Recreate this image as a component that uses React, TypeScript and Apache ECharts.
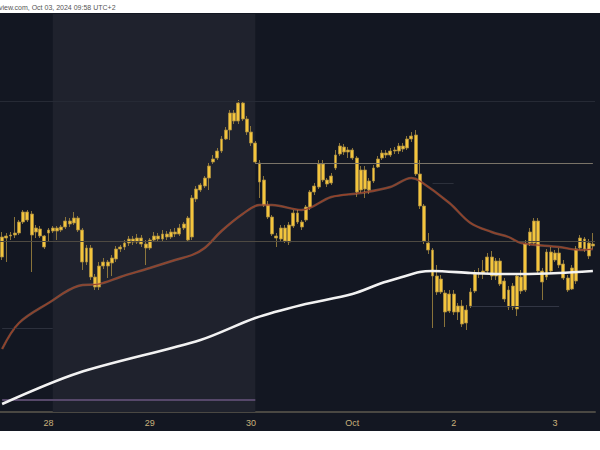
import React, { useEffect, useRef } from "react";
import * as echarts from "echarts";

// Hourly candles, first one at Sep 27 2024 13:00
const START_UTC = Date.UTC(2024, 8, 27, 13);
const CANDLE_COUNT = 141;

const tickDays = ["09-28", "09-29", "09-30", "10-01", "10-02", "10-03"];
const tickLabels = ["28", "29", "30", "Oct", "2", "3"];

const opens = [
  64430, 64620, 64640, 64650, 64670, 64780, 64880, 64860, 64680, 64710,
  64640, 64670, 64690, 64720, 64700, 64730, 64790, 64770, 64820, 64700,
  64380, 64520, 64230, 64130, 64340, 64380, 64370, 64410, 64510, 64530,
  64570, 64610, 64580, 64620, 64560, 64520, 64600, 64640, 64610, 64660,
  64630, 64680, 64660, 64720, 64820, 64630, 65010, 65100, 65140, 65220,
  65380, 65420, 65490, 65610, 65700, 65870, 65790, 65970, 65810, 65680,
  65570, 65370, 65200, 64950, 64830, 64640, 64610, 64720, 64580, 64740,
  64870, 64780, 64800, 64930, 65080, 65130, 65360, 65200, 65170, 65320,
  65460, 65530, 65480, 65500, 65420, 65100, 65300, 65100, 65190, 65330,
  65420, 65470, 65450, 65490, 65490, 65540, 65520, 65610, 65650, 65260,
  64940, 64570, 64500, 64240, 64080, 64070, 63890, 64060, 63880, 63940,
  63770, 63940, 64090, 64260, 64270, 64290, 64430, 64240, 64390, 64190,
  64100, 63930, 63910, 64230, 64100, 64570, 64570, 64790, 64290, 64230,
  64480, 64400, 64470, 64360, 64220, 64110, 64190, 64520, 64610, 64440,
  64560,
];
const closes = [
  64630, 64640, 64650, 64670, 64780, 64880, 64800, 64650, 64720, 64640,
  64530, 64700, 64720, 64690, 64730, 64790, 64760, 64820, 64700, 64380,
  64520, 64230, 64130, 64340, 64380, 64340, 64420, 64510, 64530, 64570,
  64610, 64580, 64620, 64560, 64520, 64600, 64640, 64610, 64660, 64630,
  64680, 64660, 64720, 64760, 64600, 65020, 65110, 65150, 65220, 65340,
  65410, 65490, 65610, 65700, 65870, 65790, 65970, 65810, 65680, 65570,
  65380, 65180, 64950, 64830, 64660, 64620, 64720, 64590, 64750, 64870,
  64780, 64730, 64930, 65080, 65140, 65360, 65200, 65160, 65240, 65450,
  65540, 65480, 65500, 65420, 65080, 65300, 65110, 65190, 65320, 65410,
  65470, 65450, 65490, 65500, 65540, 65510, 65610, 65640, 65260, 64940,
  64590, 64500, 64240, 64080, 64210, 63880, 64060, 63880, 63940, 63760,
  63900, 64080, 64260, 64270, 64290, 64430, 64240, 64390, 64160, 64010,
  63930, 64140, 64240, 64090, 64560, 64680, 64790, 64290, 64180, 64480,
  64290, 64470, 64350, 64220, 64100, 64320, 64510, 64620, 64510, 64570,
  64540,
];
const highs = [
  64680, 64670, 64680, 64830, 64800, 64900, 64900, 64890, 64750, 64740,
  64650, 64720, 64740, 64740, 64750, 64830, 64820, 64880, 64840, 64720,
  64550, 64550, 64260, 64380, 64420, 64400, 64450, 64540, 64550, 64600,
  64640, 64640, 64660, 64650, 64600, 64620, 64680, 64670, 64700, 64690,
  64710, 64720, 64760, 64780, 64840, 65050, 65140, 65170, 65240, 65370,
  65450, 65520, 65640, 65730, 65900, 65900, 66000, 65990, 65840, 65740,
  65590, 65400, 65240, 64990, 64850, 64670, 64750, 64750, 64780, 64900,
  64900, 64800, 64950, 65100, 65170, 65400, 65400, 65220, 65270, 65500,
  65570, 65560, 65530, 65520, 65440, 65340, 65340, 65220, 65350, 65440,
  65500, 65500, 65520, 65530, 65570, 65570, 65640, 65680, 65700, 65400,
  64960, 64670, 64520, 64350, 64250, 64100, 64100, 64100, 63970, 64000,
  63950, 64120, 64300, 64320, 64400, 64470, 64490, 64420, 64420, 64220,
  64140, 64170, 64270, 64300, 64600, 64720, 64820, 64820, 64320, 64510,
  64530, 64500, 64520, 64400, 64250, 64350, 64540, 64650, 64630, 64610,
  64670,
];
const lows = [
  64400, 64380, 64600, 64620, 64650, 64760, 64780, 64280, 64620, 64620,
  64510, 64580, 64670, 64600, 64680, 64710, 64730, 64750, 64680, 64300,
  64350, 64200, 64100, 64100, 64310, 64220, 64240, 64380, 64480, 64500,
  64540, 64550, 64560, 64530, 64350, 64500, 64580, 64580, 64590, 64600,
  64610, 64630, 64640, 64700, 64580, 64600, 64980, 65080, 65120, 65100,
  65360, 65400, 65470, 65600, 65600, 65760, 65760, 65790, 65650, 65540,
  65360, 65020, 64930, 64810, 64640, 64530, 64580, 64570, 64550, 64720,
  64760, 64700, 64780, 64900, 65050, 65110, 65180, 65130, 65150, 65300,
  65440, 65450, 65420, 65400, 65030, 65070, 65020, 65060, 65170, 65320,
  65400, 65420, 65430, 65460, 65460, 65480, 65500, 65580, 65240, 64910,
  64560, 64460, 63720, 64050, 64060, 63730, 63870, 63850, 63800, 63730,
  63700, 63920, 64070, 64220, 64210, 64260, 64200, 64200, 64140, 63980,
  63900, 63900, 63840, 64060, 64080, 64540, 64550, 64260, 64000, 64200,
  64260, 64380, 64320, 64200, 64080, 64100, 64160, 64500, 64480, 64410,
  64510,
];

// Moving averages read at sample candles: [candle index, price]
const maFast = [
  [0, 63510], [4, 63770], [11, 63970], [18, 64140], [23, 64160], [28, 64230],
  [35, 64320], [41, 64400], [45, 64450], [48, 64520], [52, 64690], [57, 64860],
  [61, 64950], [64, 64950], [71, 64900], [78, 65030], [85, 65070], [92, 65130],
  [97, 65220], [99, 65190], [106, 64970], [111, 64770], [116, 64680], [120, 64630],
  [123, 64570], [132, 64530], [137, 64500], [140, 64510],
];
const maSlow = [
  [0, 62960], [18, 63270], [47, 63600], [60, 63820], [71, 63950],
  [83, 64060], [90, 64170], [94, 64220], [99, 64280], [102, 64290], [111, 64270],
  [118, 64260], [123, 64260], [132, 64270], [140, 64290],
];

// Horizontal drawn levels (prices)
const levelPrices = [65990, 65370, 64590, 65170, 63940, 63720, 63000];

function pad(n: number) {
  return n < 10 ? "0" + n : "" + n;
}

export default function App() {
  const ref = useRef<HTMLDivElement>(null);

  useEffect(() => {
    if (!ref.current) return;
    const chart = echarts.init(ref.current, null, { renderer: "svg" });

    const categories: string[] = [];
    for (let i = 0; i < CANDLE_COUNT; i++) {
      const d = new Date(START_UTC + i * 3600 * 1000);
      categories.push(
        `${pad(d.getUTCMonth() + 1)}-${pad(d.getUTCDate())} ${pad(d.getUTCHours())}:00`
      );
    }
    const candleData = opens.map((o, i) => [o, closes[i], lows[i], highs[i]]);

    const seg = (price: number, a: number, b: number, color: string, width = 1) => [
      { coord: [categories[a], price], lineStyle: { color, width, type: "solid" } },
      { coord: [categories[b], price] },
    ];

    const option: any = {
      animation: false,
      backgroundColor: "#131722",
      grid: { left: 0, top: 14, width: 595, bottom: 38, containLabel: false },
      xAxis: {
        type: "category",
        data: categories,
        boundaryGap: true,
        axisLine: { show: true, lineStyle: { color: "#4a4843", width: 2 } },
        axisTick: { show: false },
        splitLine: { show: false },
        axisLabel: {
          color: "#c9b27c",
          fontSize: 9,
          fontFamily: "Liberation Sans, Arial, sans-serif",
          margin: 6,
          interval: (_i: number, v: string) => v.endsWith("00:00"),
          formatter: (v: string) => {
            const k = tickDays.indexOf(v.slice(0, 5));
            return k >= 0 ? tickLabels[k] : "";
          },
        },
      },
      yAxis: {
        type: "value",
        min: 62880,
        max: 66860,
        show: false,
        splitLine: { show: false },
      },
      series: [
        {
          name: "marks",
          type: "line",
          z: 1,
          data: categories.map(() => null),
          showSymbol: false,
          silent: true,
          markArea: {
            silent: true,
            itemStyle: { color: "#1f222d" },
            data: [[{ xAxis: categories[12] }, { xAxis: categories[60] }]],
          },
          markLine: {
            silent: true,
            symbol: ["none", "none"],
            label: { show: false },
            data: [
              { yAxis: levelPrices[0], lineStyle: { color: "#262a35", width: 1, type: "solid" } },
              seg(levelPrices[1], 60, 140, "#7a7468"),
              { yAxis: levelPrices[2], lineStyle: { color: "#4e4a42", width: 1, type: "solid" } },
              seg(levelPrices[3], 102, 107, "#2c303b"),
              seg(levelPrices[4], 111, 132, "#323644"),
              seg(levelPrices[5], 0, 12, "#2c303c"),
              seg(levelPrices[6], 0, 60, "#56486a", 2),
            ],
          },
        },
        {
          name: "price",
          type: "candlestick",
          z: 3,
          barWidth: 3.4,
          data: candleData,
          itemStyle: {
            color: "#f4c53c",
            color0: "#f4c53c",
            borderColor: "#a88c40",
            borderColor0: "#a88c40",
            borderWidth: 0.8,
          },
        },
        {
          name: "ma50 glow",
          type: "line",
          z: 4,
          data: maFast,
          smooth: 0.35,
          showSymbol: false,
          silent: true,
          lineStyle: { color: "#c98464", width: 2.4, opacity: 0.45 },
        },
        {
          name: "ma50",
          type: "line",
          z: 5,
          data: maFast,
          smooth: 0.35,
          showSymbol: false,
          silent: true,
          lineStyle: { color: "#9a4026", width: 1.1 },
        },
        {
          name: "ma200",
          type: "line",
          z: 6,
          data: maSlow,
          smooth: 0.3,
          showSymbol: false,
          silent: true,
          lineStyle: { color: "#f2f2f2", width: 2.6 },
        },
      ],
      graphic: [
        {
          type: "rect",
          z: 100,
          shape: { x: 0, y: 0, width: 600, height: 13 },
          style: { fill: "#ffffff" },
          silent: true,
        },
        {
          type: "rect",
          z: 100,
          shape: { x: 0, y: 431, width: 600, height: 19 },
          style: { fill: "#ffffff" },
          silent: true,
        },
        {
          type: "text",
          z: 101,
          x: -1,
          y: 7,
          silent: true,
          style: {
            text: "view.com, Oct 03, 2024 09:58 UTC+2",
            fill: "#555555",
            fontSize: 7,
            fontFamily: "Liberation Sans, Arial, sans-serif",
            verticalAlign: "middle",
            align: "left",
          },
        },
      ],
    };

    chart.setOption(option);
    return () => chart.dispose();
  }, []);

  return (
    <div
      ref={ref}
      style={{ position: "fixed", left: 0, top: 0, width: 600, height: 450 }}
    />
  );
}
